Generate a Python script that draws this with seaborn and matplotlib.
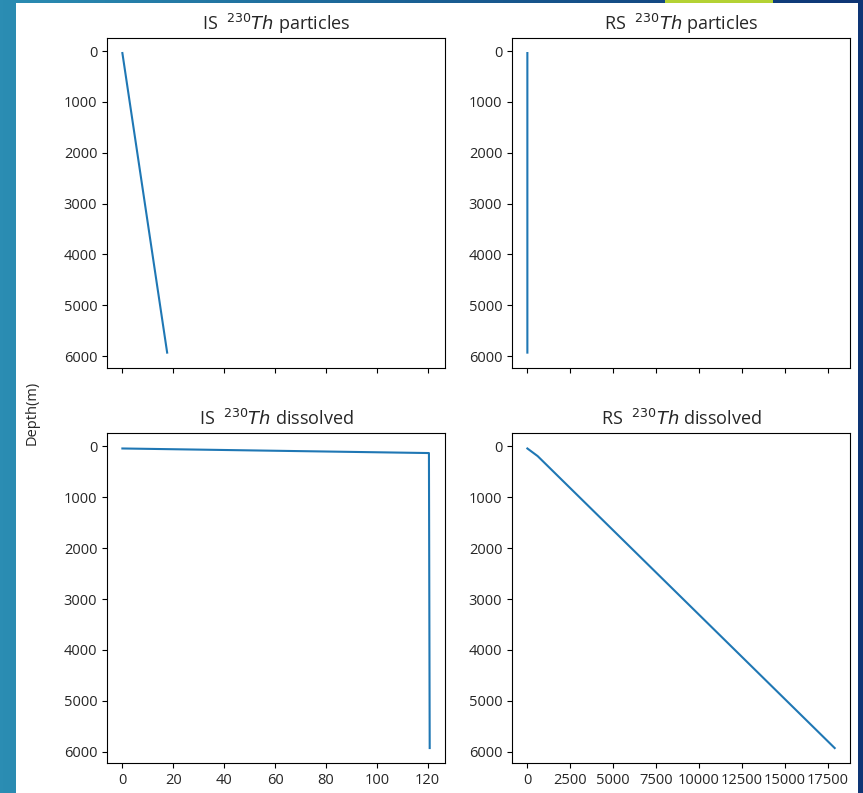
import numpy as np
import matplotlib
matplotlib.use("Agg")
import matplotlib.pyplot as plt
from matplotlib.patches import Rectangle
import seaborn as sns

# depth profiles (m) and Th-230 values
is_part_depth = [40, 5930]
is_part_value = [0.0, 17.6]

rs_part_depth = [40, 5930]
rs_part_value = [0.0, 0.3]

is_diss_depth = [40, 130, 5930]
is_diss_value = [0.0, 120.5, 120.8]

rs_diss_depth = [40, 190, 5930]
rs_diss_value = [0.0, 600, 17900]

titles = ["IS  $^{230}Th$ particles", "RS  $^{230}Th$ particles",
          "IS  $^{230}Th$ dissolved", "RS  $^{230}Th$ dissolved"]
depth_ticks = [0, 1000, 2000, 3000, 4000, 5000, 6000]
rs_ticks = [0, 2500, 5000, 7500, 10000, 12500, 15000, 17500]

plt.rcParams['font.family'] = ['Open Sans', 'DejaVu Sans']
plt.rcParams['mathtext.fontset'] = 'dejavusans'
plt.rcParams['text.color'] = '#262626'
plt.rcParams['xtick.labelcolor'] = '#262626'
plt.rcParams['ytick.labelcolor'] = '#262626'

fig, axes = plt.subplots(2, 2, sharex='col', figsize=(8.63, 7.93), dpi=100)
fig.subplots_adjust(left=0.124, right=0.985, top=0.952, bottom=0.0378,
                    wspace=0.198, hspace=0.2)

# slide background behind the figure
bg = fig.add_axes([0, 0, 1, 1], zorder=-10)
grad = np.linspace(0, 1, 256).reshape(1, -1)
cmap = matplotlib.colors.LinearSegmentedColormap.from_list(
    "slide", ["#2b8db3", "#1a5f93", "#0e3575"])
bg.imshow(grad, aspect='auto', cmap=cmap, extent=[0, 1, 0, 1])
bg.set_xlim(0, 1)
bg.set_ylim(0, 1)
bg.axis('off')
fig.patches.append(Rectangle((16 / 863, 0), (858 - 16) / 863, (793 - 3) / 793,
                             transform=fig.transFigure, facecolor='white',
                             edgecolor='none', zorder=-5))
fig.patches.append(Rectangle((665 / 863, (793 - 3) / 793), (773 - 665) / 863, 3 / 793,
                             transform=fig.transFigure, facecolor='#b4d234',
                             edgecolor='none', zorder=-5))

profiles = [(is_part_value, is_part_depth), (rs_part_value, rs_part_depth),
            (is_diss_value, is_diss_depth), (rs_diss_value, rs_diss_depth)]

for ax, (vals, depth), title in zip(axes.flat, profiles, titles):
    sns.lineplot(x=vals, y=depth, sort=False, estimator=None, ax=ax,
                 color='#1f77b4', linewidth=1.5)
    ax.invert_yaxis()
    ax.set_title(title, fontsize=13)
    ax.tick_params(labelsize=10.5)
    ax.set_yticks(depth_ticks)
    ax.set_facecolor('white')

axes[1, 1].set_xticks(rs_ticks)

fig.text(32 / 863, 1 - 413 / 793, "Depth(m)", rotation=90, va='center',
         ha='center', fontsize=10.5)

fig.savefig("out.png", dpi=100)
